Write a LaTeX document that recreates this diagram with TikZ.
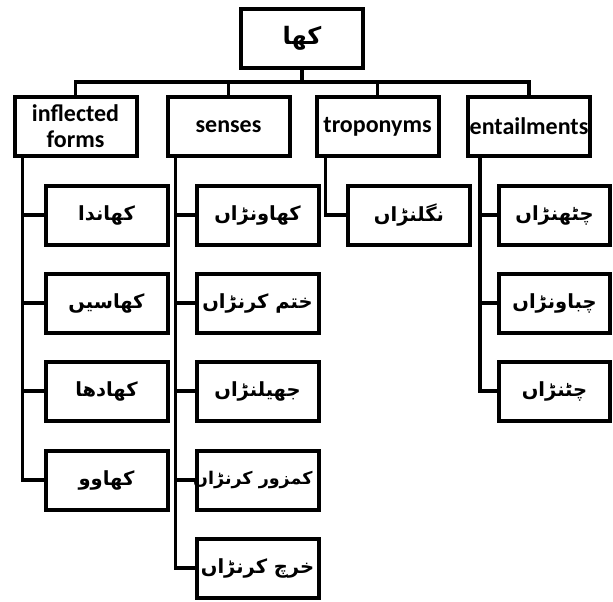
\documentclass[tikz,border=0pt]{standalone}
\usepackage{fontspec}
\setmainfont{Carlito}
\newfontfamily\urdufont[Script=Arabic]{DejaVu Sans}
\TeXXeTstate=1
\newcommand{\ur}[1]{{\urdufont\bfseries\beginR #1\endR}}
\begin{document}
\begin{tikzpicture}[x=1pt,y=-1pt]
      \tikzset{box/.style={draw=black, line width=4pt, inner sep=1pt, align=center,
          minimum width=122pt, minimum height=59pt,
          font=\fontsize{24}{26}\selectfont\bfseries},
        word/.style={box, font=\fontsize{19.5}{22}\selectfont},
        link/.style={black, line width=3.5pt}}
      \useasboundingbox (0,0) rectangle (613,602);
      % root
      \node [box] (kha) at (302,38.5) {\ur{کھا}};
      % relation boxes
      \node [box] (infl) at (75.5,126.5) {inflected\\forms};
      \node [box] (sens) at (228.5,126.5) {senses};
      \node [box] (trop) at (377.5,126.5) {troponyms};
      \node [box] (ent) at (529,126.5) {entailments};
      % inflected forms
      \node [word] (inf1) at (106.5,215) {\ur{کھاندا}};
      \node [word] (inf2) at (106.5,303) {\ur{کھاسیں}};
      \node [word] (inf3) at (106.5,391) {\ur{کھادھا}};
      \node [word] (inf4) at (106.5,480) {\ur{کھاوو}};
      % senses
      \node [word] (sen1) at (257.5,215) {\ur{کھاونڑاں}};
      \node [word] (sen2) at (257.5,303) {\ur{ختم کرنڑاں}};
      \node [word] (sen3) at (257.5,391) {\ur{جھیلنڑاں}};
      \node [word, font=\fontsize{17.5}{20}\selectfont] (sen4) at (257.5,480) {\makebox[110pt][r]{\ur{کمزور کرنڑاں}}};
      \node [word] (sen5) at (257.5,568) {\ur{خرچ کرنڑاں}};
      % troponyms
      \node [word] (tro1) at (409,215) {\ur{نگلنڑاں}};
      % entailments
      \node [word, minimum width=111pt] (ent1) at (554.5,215) {\ur{چٹھنڑاں}};
      \node [word, minimum width=111pt] (ent2) at (554.5,303) {\ur{چباونڑاں}};
      \node [word, minimum width=111pt] (ent3) at (554.5,391) {\ur{چٹنڑاں}};
      % top bar
      \coordinate (bar) at (302,82);
      \draw [link] (kha.south) -- (bar);
      \draw [link] (infl.north) |- (bar);
      \draw [link] (sens.north) |- (bar);
      \draw [link] (trop.north) |- (bar);
      \draw [link] (ent.north) |- (bar);
      % branches
      \draw [link] ([xshift=10pt]infl.south west) |- (inf1.west);
      \draw [link] ([xshift=10pt]infl.south west) |- (inf2.west);
      \draw [link] ([xshift=10pt]infl.south west) |- (inf3.west);
      \draw [link] ([xshift=10pt]infl.south west) |- (inf4.west);
      \draw [link] ([xshift=10pt]sens.south west) |- (sen1.west);
      \draw [link] ([xshift=10pt]sens.south west) |- (sen2.west);
      \draw [link] ([xshift=10pt]sens.south west) |- (sen3.west);
      \draw [link] ([xshift=10pt]sens.south west) |- (sen4.west);
      \draw [link] ([xshift=10pt]sens.south west) |- (sen5.west);
      \draw [link] ([xshift=11pt]trop.south west) |- (tro1.west);
      \draw [link] ([xshift=14pt]ent.south west) |- (ent1.west);
      \draw [link] ([xshift=14pt]ent.south west) |- (ent2.west);
      \draw [link] ([xshift=14pt]ent.south west) |- (ent3.west);
    \end{tikzpicture}
\end{document}
